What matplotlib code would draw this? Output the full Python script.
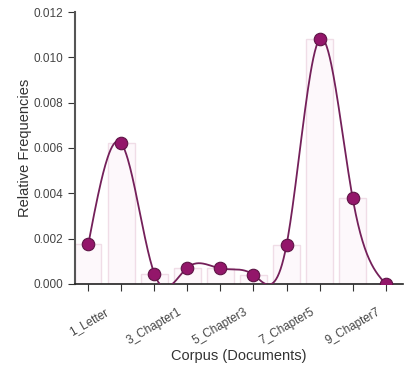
import numpy as np
import matplotlib
matplotlib.use("Agg")
import matplotlib.pyplot as plt

plt.rcParams['font.family'] = ['Liberation Sans', 'DejaVu Sans']

documents = ["1_Letter", "2_Letter", "3_Chapter1", "4_Chapter2", "5_Chapter3",
             "6_Chapter4", "7_Chapter5", "8_Chapter6", "9_Chapter7", "10_Chapter8"]
frequencies = [0.00175, 0.0062, 0.00045, 0.00072, 0.00068,
               0.0004, 0.00172, 0.0108, 0.0038, 0.0]


def natural_spline(xs, ys, n=400):
    """Natural cubic spline through the points (for the smooth line only)."""
    xs = np.asarray(xs, float)
    ys = np.asarray(ys, float)
    k = len(xs)
    h = np.diff(xs)
    A = np.zeros((k, k))
    b = np.zeros(k)
    A[0, 0] = A[-1, -1] = 1
    for i in range(1, k - 1):
        A[i, i - 1] = h[i - 1]
        A[i, i] = 2 * (h[i - 1] + h[i])
        A[i, i + 1] = h[i]
        b[i] = 3 * ((ys[i + 1] - ys[i]) / h[i] - (ys[i] - ys[i - 1]) / h[i - 1])
    c = np.linalg.solve(A, b)
    xx = np.linspace(xs[0], xs[-1], n)
    idx = np.clip(np.searchsorted(xs, xx) - 1, 0, k - 2)
    dx = xx - xs[idx]
    bb = (ys[idx + 1] - ys[idx]) / h[idx] - h[idx] * (2 * c[idx] + c[idx + 1]) / 3
    dd = (c[idx + 1] - c[idx]) / (3 * h[idx])
    yy = ys[idx] + bb * dx + c[idx] * dx ** 2 + dd * dx ** 3
    return xx, yy


fig = plt.figure(figsize=(4.17, 3.77), dpi=100)
ax = fig.add_axes([0.18, 0.247, 0.786, 0.721])

x = np.arange(len(documents))
ax.bar(x, frequencies, width=0.8, color="#fdf8fb", edgecolor="#f0dde7", linewidth=1)

xx, yy = natural_spline(x, frequencies)
ax.plot(xx, yy, color="#74205a", linewidth=1.3, zorder=3)
ax.plot(x, frequencies, "o", markersize=9, color="#93166a",
        markeredgecolor="#5e1445", markeredgewidth=0.8, zorder=4)

ax.set_xlim(-0.4, 9.52)
ax.set_ylim(0, 0.012)
ax.set_yticks(np.arange(0, 0.0121, 0.002))
ax.set_yticklabels([f"{v:.3f}" for v in np.arange(0, 0.0121, 0.002)])
ax.set_xticks(x)
ax.set_xticklabels([d if i % 2 == 0 else "" for i, d in enumerate(documents)],
                   rotation=30, ha="center")

for s in ["top", "right"]:
    ax.spines[s].set_visible(False)
ax.spines["left"].set_color("#555555")
ax.spines["bottom"].set_color("#222222")
ax.spines["left"].set_linewidth(1.5)
ax.spines["bottom"].set_linewidth(1.2)
ax.tick_params(axis="both", labelsize=8.5, colors="#333333", length=5, labelcolor="#444444")
ax.tick_params(axis="x", pad=11)

ax.set_ylabel("Relative Frequencies", fontsize=10.5, color="#333333", labelpad=1)
ax.set_xlabel("Corpus (Documents)", fontsize=10.5, color="#333333", labelpad=1)

fig.savefig("out.png", dpi=100)
